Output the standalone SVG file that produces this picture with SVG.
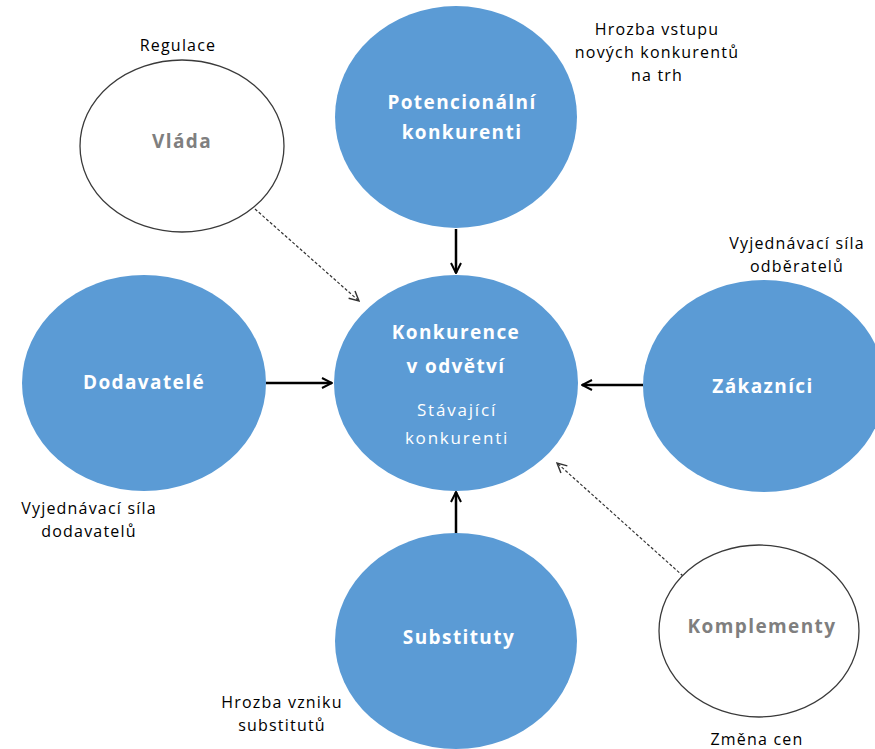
<svg xmlns="http://www.w3.org/2000/svg" width="875" height="749" viewBox="0 0 875 749">
<style>
.blue{fill:#5b9bd5;}
.white{fill:#ffffff;stroke:#3a3a3a;stroke-width:1.3;}
.bt{font-family:"Open Sans","Liberation Sans",sans-serif;font-weight:bold;font-size:19px;letter-spacing:1.4px;fill:#ffffff;text-anchor:middle;}
.wt{font-family:"Open Sans","Liberation Sans",sans-serif;font-size:17px;letter-spacing:1.8px;fill:#ffffff;text-anchor:middle;}
.gt{font-family:"Open Sans","Liberation Sans",sans-serif;font-weight:bold;font-size:19px;letter-spacing:1.4px;fill:#7f7f7f;text-anchor:middle;}
.lt{font-family:"Open Sans","Liberation Sans",sans-serif;font-size:16px;letter-spacing:1.2px;fill:#000000;text-anchor:middle;}
.solid{stroke:#000;stroke-width:2.5;fill:none;}
.dash{stroke:#333;stroke-width:1.2;stroke-dasharray:3,2;fill:none;}
</style>
<defs>
<marker id="ah" viewBox="0 0 10 10" refX="9" refY="5" markerWidth="5" markerHeight="5" orient="auto" markerUnits="strokeWidth">
<path d="M1,1 L9,5 L1,9" fill="none" stroke="#000" stroke-width="1.6"/>
</marker>
<marker id="ahd" viewBox="0 0 10 10" refX="9" refY="5" markerWidth="10" markerHeight="10" orient="auto" markerUnits="strokeWidth">
<path d="M1,1 L9,5 L1,9" fill="none" stroke="#333" stroke-width="1.2"/>
</marker>
</defs>
<rect width="875" height="749" fill="#ffffff"/>
<g id="connectors">
<line class="solid" x1="456" y1="229" x2="456" y2="273" marker-end="url(#ah)"/>
<line class="solid" x1="266" y1="383" x2="332" y2="383" marker-end="url(#ah)"/>
<line class="solid" x1="643" y1="385" x2="582" y2="385" marker-end="url(#ah)"/>
<line class="solid" x1="456" y1="534" x2="456" y2="492" marker-end="url(#ah)"/>
<line class="dash" x1="255" y1="209" x2="359" y2="301" marker-end="url(#ahd)"/>
<line class="dash" x1="683" y1="576" x2="557" y2="463" marker-end="url(#ahd)"/>
</g>
<g id="potencionalni">
<ellipse class="blue" cx="456" cy="117" rx="121" ry="111"/>
<text class="bt" x="462" y="109">Potencionální</text>
<text class="bt" x="462" y="139">konkurenti</text>
</g>
<g id="konkurence">
<ellipse class="blue" cx="456" cy="383" rx="122" ry="108"/>
<text class="bt" x="456" y="339">Konkurence</text>
<text class="bt" x="456" y="373">v odvětví</text>
<text class="wt" x="457" y="416">Stávající</text>
<text class="wt" x="457" y="444">konkurenti</text>
</g>
<g id="dodavatele">
<ellipse class="blue" cx="144" cy="383" rx="122" ry="108"/>
<text class="bt" x="144" y="389">Dodavatelé</text>
</g>
<g id="zakaznici">
<ellipse class="blue" cx="764" cy="386" rx="121" ry="106"/>
<text class="bt" x="763" y="393">Zákazníci</text>
</g>
<g id="substituty">
<ellipse class="blue" cx="456" cy="641" rx="121" ry="108"/>
<text class="bt" x="459" y="644">Substituty</text>
</g>
<g id="vlada">
<ellipse class="white" cx="182" cy="146" rx="102" ry="86"/>
<text class="gt" x="182" y="148">Vláda</text>
</g>
<g id="komplementy">
<ellipse class="white" cx="759" cy="631" rx="100" ry="86"/>
<text class="gt" x="762" y="633">Komplementy</text>
</g>
<g id="labels">
<text class="lt" x="178" y="51">Regulace</text>
<text class="lt" x="657" y="35">Hrozba vstupu</text>
<text class="lt" x="657" y="58">nových konkurentů</text>
<text class="lt" x="657" y="81">na trh</text>
<text class="lt" x="797" y="249">Vyjednávací síla</text>
<text class="lt" x="797" y="272">odběratelů</text>
<text class="lt" x="89" y="514">Vyjednávací síla</text>
<text class="lt" x="89" y="537">dodavatelů</text>
<text class="lt" x="282" y="708">Hrozba vzniku</text>
<text class="lt" x="282" y="731">substitutů</text>
<text class="lt" x="757" y="745">Změna cen</text>
</g>
</svg>
